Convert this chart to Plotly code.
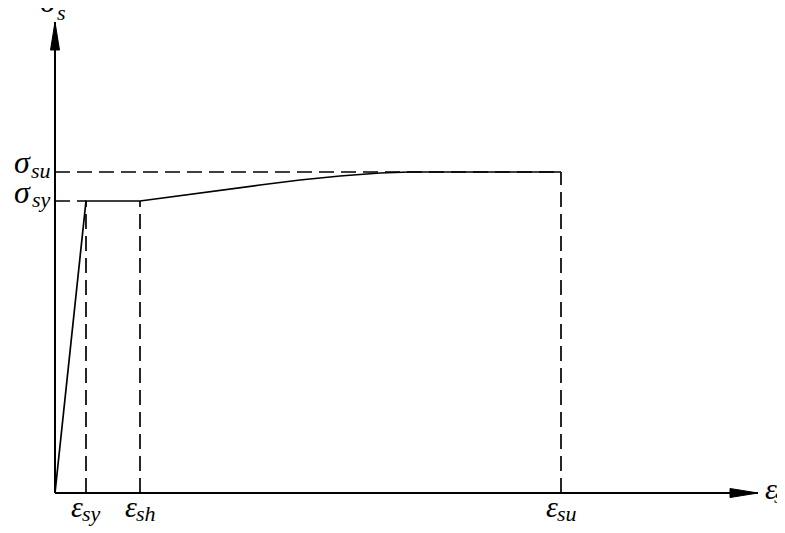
import plotly.graph_objects as go

# Data in drawing units (origin at axis intersection)
eps_sy = 31
eps_sh = 85
eps_su = 506
sig_sy = 292
sig_su = 321
x_axis_end = 703
y_axis_end = 471

hard_strain = [85, 125, 165, 205, 245, 285, 325, 355]
hard_stress = [292, 297.5, 303, 308, 313, 317, 320, 321]

FONT = "Liberation Serif"
BLACK = "#000000"
DASH = "15px,7px"
X_RANGE = [-47, 730]
Y_RANGE = [-40, 485]

fig = go.Figure()

def line(xs, ys, dash="solid", width=1.7):
    fig.add_trace(go.Scatter(x=xs, y=ys, mode="lines",
                             line=dict(color=BLACK, width=width, dash=dash),
                             hoverinfo="skip", showlegend=False))

# axes
line([0, x_axis_end], [0, 0], width=2)
line([0, 0], [0, y_axis_end], width=2)
# arrowheads
fig.add_trace(go.Scatter(x=[x_axis_end, x_axis_end - 28, x_axis_end - 28, x_axis_end],
                         y=[0, 4.5, -4.5, 0], mode="lines", fill="toself",
                         fillcolor=BLACK, line=dict(color=BLACK, width=1),
                         hoverinfo="skip", showlegend=False))
fig.add_trace(go.Scatter(x=[0, -4.5, 4.5, 0],
                         y=[y_axis_end, y_axis_end - 28, y_axis_end - 28, y_axis_end],
                         mode="lines", fill="toself",
                         fillcolor=BLACK, line=dict(color=BLACK, width=1),
                         hoverinfo="skip", showlegend=False))

# dashed reference lines
line([0, eps_su], [sig_su, sig_su], dash=DASH)
line([0, eps_sy], [sig_sy, sig_sy], dash=DASH)
line([eps_sy, eps_sy], [0, sig_sy], dash=DASH)
line([eps_sh, eps_sh], [0, sig_sy], dash=DASH)
line([eps_su, eps_su], [0, sig_su], dash=DASH)

# stress-strain curve
line([0, eps_sy, eps_sh], [0, sig_sy, sig_sy])
line(hard_strain + [eps_su], hard_stress + [sig_su])

def txt(x, y, s, size, xanchor="center", yshift=0):
    fig.add_annotation(x=x, y=y, xref="x", yref="y", showarrow=False,
                       text=f"<i>{s}</i>",
                       font=dict(family=FONT, size=size, color=BLACK),
                       xanchor=xanchor, yanchor="middle", yshift=yshift)

SIG, EPS, SUB = 32, 30, 22
# stress labels on the vertical axis
txt(-33, sig_su + 10, "σ", SIG)
txt(-14, sig_su + 1.4, "su", SUB)
txt(-33, sig_sy + 9, "σ", SIG)
txt(-14, sig_sy + 1.4, "sy", SUB)
# strain labels below the horizontal axis
for xv, sub in [(eps_sy, "sy"), (eps_sh, "sh"), (eps_su, "su")]:
    txt(xv - 9.5, -13.7, "ε", EPS)
    txt(xv + 5.5, -20.7, sub, SUB)
# axis titles
txt(x_axis_end + 13, 5, "ε", EPS)
txt(X_RANGE[1], -2.7, "s", SUB, xanchor="right")
txt(-6.5, Y_RANGE[1], "σ", SIG, yshift=7)
txt(6, y_axis_end + 9.3, "s", SUB)

fig.update_layout(width=777, height=525, margin=dict(l=0, r=0, t=0, b=0),
                  paper_bgcolor="white", plot_bgcolor="white",
                  xaxis=dict(range=X_RANGE, visible=False),
                  yaxis=dict(range=Y_RANGE, visible=False))

fig.write_html("out.html")
